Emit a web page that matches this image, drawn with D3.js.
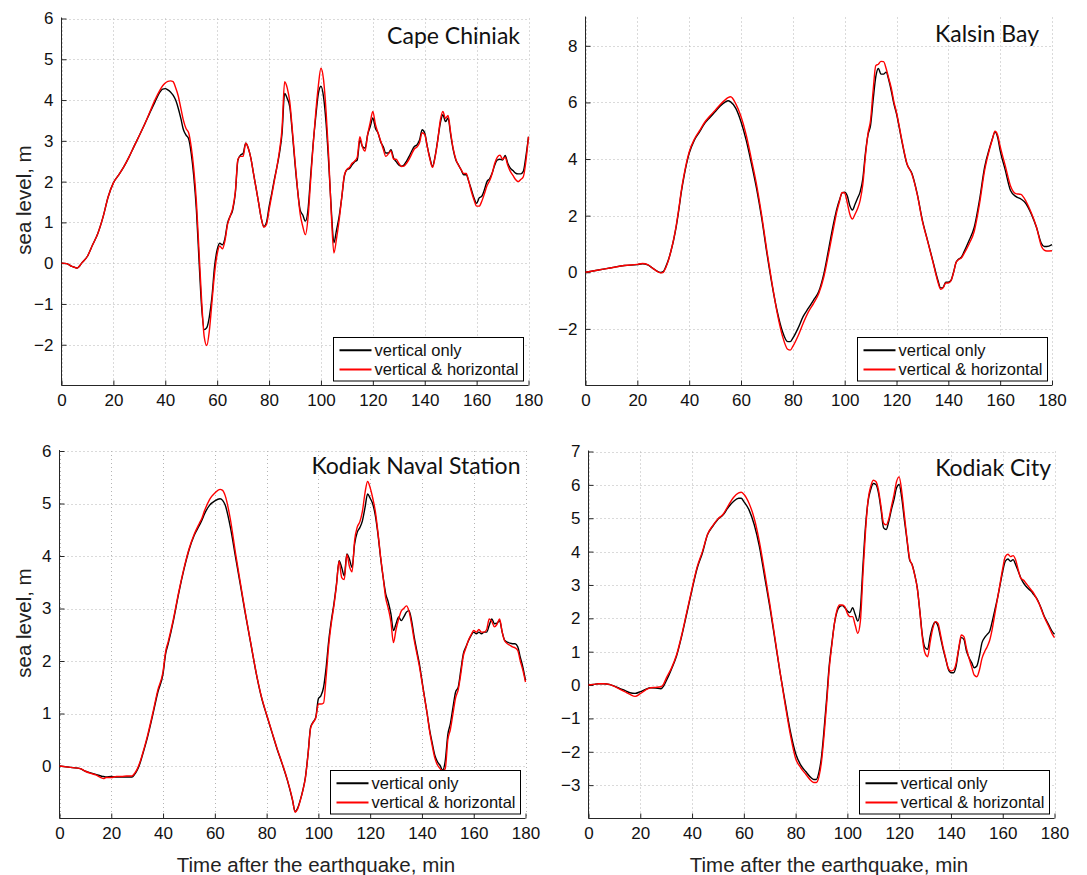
<!DOCTYPE html>
<html><head><meta charset="utf-8">
<script src="https://cdn.jsdelivr.net/npm/d3@7"></script>
<style>body{margin:0;background:#fff}svg{display:block}</style>
</head><body>
<svg id="chart" width="1087" height="875"></svg>
<script>
// ---------------- DATA ----------------
const xTicks = [0,20,40,60,80,100,120,140,160,180];
const seriesNames = ["vertical only","vertical & horizontal"];

// Cape Chiniak
const capeYTicks = [-2,-1,0,1,2,3,4,5,6];
const capeTime = [0,2,4,5,6,8,10,12,14,16,18,20,22,24,26,28,30,32,34,36,38,39,
 40,41,42,43,44,45,46,47,48,49,50,51,52,53,54,55,56,57,58,59,60,61,62,63,64,65,66,67,68,69,
 70,71,72,73,74,75,76,77,78,79,80,81,82,83,84,85,86,87,88,89,90,91,92,93,94,95,96,97,98,99,
 100,101,102,103,104,105,106,107,108,109,110,111,112,113,114,115,116,117,118,119,
 120,121,122,123,124,125,126,127,128,129,130,131,132,133,134,135,136,137,138,139,
 140,141,142,143,144,145,146,147,148,149,150,151,152,153,154,155,156,157,158,159,
 160,161,162,163,164,165,166,167,168,169,170,171,172,173,174,175,176,177,178,179,180];
const capeVert = [0,-0.01,-0.08,-0.1,-0.12,0.02,0.17,0.45,0.73,1.13,1.63,1.97,2.16,2.36,2.6,2.87,3.13,3.4,3.68,3.95,4.2,4.27,
 4.28,4.25,4.2,4.12,4.0,3.8,3.55,3.27,3.14,3.05,
 2.69,2.12,1.3,0.08,-1.06,-1.63,-1.58,-1.31,-0.82,-0.08,
 0.33,0.49,0.45,0.61,0.98,1.15,1.31,1.72,2.53,2.65,
 2.69,2.94,2.82,2.57,2.2,1.84,1.47,1.1,0.9,1.0,
 1.38,1.7,2.04,2.35,2.69,3.18,4.16,4.04,3.83,3.18,
 2.44,1.79,1.3,1.18,1.03,1.3,2.12,2.93,3.59,4.16,
 4.34,4.08,3.42,2.44,1.3,0.5,0.81,1.14,1.6,2.12,
 2.29,2.32,2.41,2.49,2.53,3.02,2.86,2.82,3.15,3.35,
 3.56,3.31,3.19,2.98,2.86,2.7,2.7,2.78,2.58,2.49,
 2.41,2.38,2.41,2.5,2.62,2.75,2.86,2.9,3.02,3.27,
 3.19,2.86,2.58,2.37,2.62,3.02,3.43,3.64,3.47,3.56,
 3.15,2.78,2.53,2.41,2.29,2.17,2.17,2.0,1.8,1.6,
 1.47,1.6,1.64,1.8,2.0,2.07,2.21,2.41,2.53,2.55,
 2.53,2.64,2.45,2.33,2.27,2.21,2.19,2.19,2.25,2.62,3.1];
const capeVertHoriz = [0,-0.01,-0.08,-0.1,-0.12,0.02,0.17,0.45,0.73,1.13,1.63,1.97,2.16,2.36,2.6,2.87,3.13,3.4,3.7,4.0,4.25,4.35,
 4.42,4.46,4.47,4.45,4.3,4.1,3.8,3.5,3.3,3.2,
 2.85,2.3,1.5,0.3,-0.9,-1.8,-2.02,-1.65,-0.95,-0.25,
 0.22,0.42,0.35,0.55,0.95,1.15,1.35,1.75,2.55,2.62,
 2.62,2.94,2.82,2.57,2.2,1.84,1.47,1.1,0.88,0.95,
 1.3,1.65,2.0,2.35,2.75,3.3,4.45,4.3,3.95,3.25,
 2.5,1.8,1.2,0.9,0.7,1.1,2.0,2.9,3.7,4.35,
 4.78,4.5,3.7,2.6,1.2,0.25,0.6,1.05,1.6,2.15,
 2.3,2.35,2.45,2.5,2.6,3.1,2.85,2.75,3.15,3.45,
 3.72,3.4,3.2,3.0,2.8,2.62,2.68,2.75,2.55,2.55,
 2.45,2.37,2.38,2.45,2.55,2.68,2.8,2.85,2.95,3.2,
 3.15,2.85,2.55,2.35,2.6,3.0,3.5,3.72,3.55,3.62,
 3.2,2.8,2.55,2.4,2.3,2.2,2.2,2.0,1.75,1.55,
 1.4,1.4,1.52,1.7,1.9,2.02,2.2,2.45,2.6,2.65,
 2.55,2.6,2.4,2.25,2.15,2.05,2.0,2.05,2.12,2.5,3.1];

// Kalsin Bay
const kalsinYTicks = [-2,0,2,4,6,8];
const kalsinTime = [0,5,10,15,20,22,24,26,28,29,30,31,32,33,34,35,36,37,38,40,42,44,46,48,50,52,54,55,56,
 58,60,62,64,66,68,70,72,74,76,78,79,80,82,84,86,88,90,92,94,
 96,97,98,99,100,101,102,103,104,105,106,107,108,109,110,111,112,113,114,115,116,117,118,119,120,
 122,124,126,128,130,132,134,136,137,138,139,140,141,142,143,144,145,146,148,150,152,154,156,157,158,159,160,
 162,164,166,168,170,172,174,176,177,178,180];
const kalsinVert = [0,0.08,0.16,0.24,0.27,0.3,0.26,0.14,0.02,-0.01,0.02,0.2,0.44,0.76,1.14,1.61,2.2,2.85,3.38,
 4.2,4.67,4.96,5.26,5.47,5.67,5.87,6.02,6.06,6.02,
 5.79,5.32,4.67,3.85,2.96,1.9,0.67,-0.45,-1.39,-2.09,-2.45,-2.45,-2.33,-1.98,-1.56,-1.27,-0.98,-0.68,-0.04,0.91,
 1.85,2.25,2.55,2.8,2.83,2.7,2.35,2.2,2.4,2.62,2.85,3.3,4.2,4.85,5.2,6.1,6.9,7.2,7.0,7.0,7.07,6.8,6.4,5.95,5.6,
 4.66,3.83,3.48,2.77,1.83,1.12,0.41,-0.29,-0.55,-0.53,-0.35,-0.35,-0.29,0,0.35,0.47,0.53,0.71,1.12,1.59,2.54,3.71,4.42,4.72,4.95,4.78,4.3,
 3.6,2.89,2.68,2.59,2.42,2.06,1.59,1.0,0.91,0.91,0.98];
const kalsinVertHoriz = [0,0.08,0.16,0.24,0.28,0.31,0.27,0.14,0.01,-0.02,0.0,0.17,0.42,0.76,1.16,1.65,2.25,2.9,3.43,
 4.25,4.7,5.0,5.3,5.52,5.72,5.93,6.1,6.17,6.2,
 5.95,5.5,4.85,4.0,3.1,2.0,0.75,-0.4,-1.45,-2.25,-2.72,-2.75,-2.62,-2.25,-1.8,-1.4,-1.1,-0.75,-0.15,0.75,
 1.7,2.15,2.5,2.82,2.8,2.45,2.05,1.88,2.05,2.25,2.55,3.1,4.1,4.9,5.38,6.44,7.3,7.35,7.45,7.44,7.2,6.85,6.5,6.02,5.65,
 4.7,3.85,3.45,2.75,1.8,1.1,0.38,-0.35,-0.6,-0.55,-0.38,-0.38,-0.3,-0.02,0.35,0.45,0.5,0.65,1.0,1.45,2.4,3.6,4.38,4.7,4.98,4.85,4.45,
 3.75,3.05,2.78,2.75,2.5,2.1,1.6,0.9,0.78,0.75,0.76];

// Kodiak Naval Station
const navalYTicks = [0,1,2,3,4,5,6];
const navalTime = [0,5,8,10,12,14,16,17,18,20,22,24,26,28,29,30,31,32,34,36,38,40,41,42,44,46,48,50,52,54,55,56,58,60,62,63,64,
 66,68,70,72,74,76,78,80,82,84,86,88,90,
 91,92,93,94,95,96,97,98,99,
 100,101,102,103,104,105,106,107,108,109,110,111,112,113,114,115,116,117,118,119,
 120,121,122,123,124,125,126,127,128,129,130,131,132,133,134,135,136,137,138,139,
 140,141,142,143,144,145,146,147,148,149,150,151,152,153,154,155,156,157,158,159,
 160,161,162,163,164,165,166,167,168,169,170,171,172,173,174,175,176,177,178,179,180];
const navalVert = [0,-0.03,-0.05,-0.1,-0.13,-0.16,-0.19,-0.2,-0.21,-0.2,-0.21,-0.21,-0.21,-0.21,-0.16,-0.08,0.04,0.2,
 0.55,0.97,1.41,1.76,2.14,2.33,2.77,3.28,3.73,4.11,4.39,4.58,4.68,4.8,4.97,5.05,5.09,5.06,4.97,
 4.55,3.98,3.41,2.84,2.3,1.76,1.31,0.97,0.65,0.33,0.04,-0.27,-0.65,
 -0.87,-0.8,-0.65,-0.46,-0.21,0.23,0.74,0.84,0.93,
 1.28,1.34,1.5,1.88,2.39,2.77,3.09,3.47,3.91,3.78,
 3.62,4.04,3.94,3.78,4.23,4.45,4.54,4.67,4.92,5.18,
 5.1,4.99,4.77,4.42,3.98,3.6,3.28,3.12,2.9,2.58,
 2.71,2.84,2.77,2.84,2.93,2.96,2.77,2.46,2.2,1.95,
 1.63,1.31,1.0,0.68,0.43,0.2,0.08,0.01,-0.08,0.1,
 0.6,0.81,1.12,1.41,1.5,1.82,2.14,2.27,2.39,2.49,
 2.55,2.52,2.55,2.52,2.55,2.55,2.68,2.8,2.71,2.72,
 2.77,2.55,2.39,2.36,2.34,2.33,2.33,2.27,2.07,1.88,1.63];
const navalVertHoriz = [0,-0.03,-0.05,-0.1,-0.14,-0.17,-0.22,-0.24,-0.22,-0.22,-0.2,-0.2,-0.19,-0.19,-0.14,-0.06,0.06,0.22,
 0.58,1.0,1.45,1.8,2.18,2.37,2.8,3.3,3.75,4.13,4.41,4.62,4.72,4.86,5.08,5.2,5.27,5.25,5.15,
 4.7,4.05,3.45,2.86,2.31,1.77,1.32,0.98,0.66,0.34,0.05,-0.26,-0.64,
 -0.88,-0.82,-0.66,-0.47,-0.22,0.22,0.72,0.83,0.92,
 1.18,1.18,1.2,1.7,2.3,2.72,3.05,3.45,3.9,3.59,
 3.55,4.03,3.8,3.7,4.3,4.55,4.65,4.85,5.2,5.42,
 5.3,5.1,4.85,4.45,4.0,3.6,3.2,3.0,2.75,2.35,
 2.6,2.8,2.95,3.0,3.05,2.95,2.7,2.4,2.15,1.9,
 1.6,1.3,1.0,0.65,0.38,0.15,0.02,-0.05,-0.1,-0.05,
 0.5,0.7,1.0,1.3,1.45,1.75,2.1,2.25,2.4,2.5,
 2.58,2.55,2.6,2.55,2.55,2.6,2.8,2.75,2.65,2.7,
 2.8,2.55,2.38,2.33,2.3,2.27,2.25,2.2,2.0,1.82,1.6];

// Kodiak City
const cityYTicks = [-3,-2,-1,0,1,2,3,4,5,6,7];
const cityTime = [0,2,4,6,8,10,12,14,16,18,20,22,24,26,28,29,30,32,34,36,38,40,42,44,46,48,50,52,54,56,58,59,60,
 62,64,66,68,70,72,74,76,78,80,82,84,86,
 87,88,89,90,91,92,93,94,95,96,97,98,99,
 100,101,102,103,104,105,106,107,108,109,110,111,112,113,114,115,116,117,118,119,
 120,121,122,123,124,125,126,127,128,129,130,131,132,133,134,135,136,137,138,139,
 140,141,142,143,144,145,146,147,148,149,150,151,152,153,154,155,156,157,158,159,
 160,161,162,163,164,165,166,167,168,169,170,171,172,173,174,175,176,177,178,179,180];
const cityVert = [0,0.02,0.04,0.04,0.02,-0.03,-0.1,-0.16,-0.23,-0.25,-0.2,-0.13,-0.08,-0.09,-0.11,-0.03,0.12,
 0.47,0.87,1.47,2.16,2.86,3.51,3.96,4.51,4.76,4.97,5.1,5.33,5.5,5.6,5.6,5.5,
 5.25,4.81,4.16,3.26,2.36,1.37,0.37,-0.53,-1.4,-2.05,-2.4,-2.6,-2.78,
 -2.83,-2.83,-2.62,-2.15,-1.33,-0.4,0.6,1.25,1.85,2.2,2.35,2.38,2.32,
 2.22,2.17,2.32,2.12,1.92,2.27,3.56,4.76,5.51,5.86,
 6.04,6.01,5.76,5.26,4.71,4.66,4.91,5.26,5.56,5.91,
 6.01,5.61,4.96,4.36,3.76,3.61,3.31,2.91,2.2,1.47,
 1.12,1.07,1.47,1.77,1.89,1.77,1.42,1.07,0.77,0.47,
 0.37,0.37,0.57,1.07,1.42,1.37,1.02,0.82,0.67,0.52,
 0.57,0.87,1.27,1.42,1.52,1.62,1.92,2.27,2.61,3.01,
 3.41,3.71,3.78,3.71,3.76,3.61,3.41,3.21,3.06,2.96,
 2.88,2.81,2.71,2.61,2.46,2.27,2.07,1.92,1.77,1.62,1.52];
const cityVertHoriz = [0,0.02,0.04,0.04,0.02,-0.04,-0.12,-0.2,-0.28,-0.34,-0.26,-0.15,-0.08,-0.07,-0.05,0.03,0.2,
 0.5,0.9,1.5,2.2,2.9,3.55,4.0,4.52,4.78,4.98,5.12,5.38,5.62,5.76,5.78,5.72,
 5.45,5.0,4.3,3.4,2.45,1.42,0.38,-0.6,-1.5,-2.2,-2.48,-2.68,-2.87,
 -2.92,-2.92,-2.75,-2.3,-1.5,-0.55,0.5,1.2,1.85,2.25,2.4,2.4,2.35,
 2.15,2.05,2.05,1.8,1.55,1.9,3.3,4.6,5.55,5.95,
 6.14,6.1,5.85,5.35,4.85,4.8,4.98,5.35,5.7,6.1,
 6.24,5.8,5.1,4.4,3.8,3.6,3.3,2.9,2.2,1.4,
 0.95,0.85,1.3,1.7,1.9,1.85,1.5,1.12,0.8,0.5,
 0.42,0.45,0.65,1.1,1.5,1.45,1.1,0.8,0.55,0.3,
 0.25,0.45,0.8,1.0,1.15,1.35,1.7,2.15,2.6,3.05,
 3.5,3.85,3.92,3.85,3.88,3.75,3.45,3.2,3.15,3.05,
 2.95,2.85,2.75,2.6,2.45,2.25,2.05,1.88,1.72,1.55,1.42];

// ---------------- LAYOUT ----------------
const panels = [
  {title:"Cape Chiniak", time:capeTime, s1:capeVert, s2:capeVertHoriz, yDom:[-3,6], yTicks:capeYTicks,
   x0:61.5, x1:528.5, y0:18.5, y1:385.5, tx:520, ty:44, yl:{x:30.5,y:200}},
  {title:"Kalsin Bay", time:kalsinTime, s1:kalsinVert, s2:kalsinVertHoriz, yDom:[-4,9], yTicks:kalsinYTicks,
   x0:585.5, x1:1052, y0:17.5, y1:385.5, tx:1039, ty:41.7},
  {title:"Kodiak Naval Station", time:navalTime, s1:navalVert, s2:navalVertHoriz, yDom:[-1,6], yTicks:navalYTicks,
   x0:59.5, x1:525.5, y0:451, y1:818.5, tx:520.5, ty:474, yl:{x:30.5,y:623}, xl:{x:316,y:871.5}},
  {title:"Kodiak City", time:cityTime, s1:cityVert, s2:cityVertHoriz, yDom:[-4,7], yTicks:cityYTicks,
   x0:588.5, x1:1054.5, y0:451.5, y1:818.5, tx:1051, ty:476, xl:{x:829,y:871.5}}
];

const svg = d3.select("#chart");
const FONT = "'Liberation Sans', Arial, Helvetica, sans-serif";
const TFONT = "Lato, 'Noto Sans', sans-serif";
const axisCol = "#262626";

panels.forEach(p => {
  const x = d3.scaleLinear().domain([0,180]).range([p.x0, p.x1]);
  const y = d3.scaleLinear().domain(p.yDom).range([p.y1, p.y0]);
  const g = svg.append("g");

  // grid
  const grid = g.append("g").attr("stroke","#b4b4b4").attr("stroke-width",1).attr("stroke-dasharray","1,3").attr("fill","none");
  xTicks.forEach(v => {
    const xx = Math.round(x(v)) + 0.5;
    grid.append("line").attr("x1",xx).attr("x2",xx).attr("y1",p.y0).attr("y2",p.y1);
  });
  p.yTicks.forEach(v => {
    const yy = Math.round(y(v)) + 0.5;
    grid.append("line").attr("x1",p.x0).attr("x2",p.x1).attr("y1",yy).attr("y2",yy);
  });

  // axes (ticks inward)
  const xAxis = d3.axisBottom(x).tickValues(xTicks).tickSize(-5).tickPadding(8).tickFormat(d3.format("d"));
  const yAxis = d3.axisLeft(y).tickValues(p.yTicks).tickSize(-5).tickPadding(8)
      .tickFormat(d => d < 0 ? "\u2212" + Math.abs(d) : String(d));
  const ax = g.append("g").attr("transform", `translate(0,${p.y1})`).call(xAxis);
  const ay = g.append("g").attr("transform", `translate(${p.x0},0)`).call(yAxis);
  [ax, ay].forEach(a => {
    a.select(".domain").attr("stroke", axisCol).attr("d", null);
    a.selectAll(".tick line").attr("stroke", axisCol);
    a.selectAll("text").attr("fill","#111").style("font-family",FONT).style("font-size","17px");
  });
  ax.select(".domain").remove();
  ay.select(".domain").remove();
  g.append("line").attr("x1",p.x0).attr("x2",p.x1).attr("y1",p.y1).attr("y2",p.y1).attr("stroke",axisCol);
  g.append("line").attr("x1",p.x0).attr("x2",p.x0).attr("y1",p.y0 - 1).attr("y2",p.y1).attr("stroke",axisCol);

  // curves
  const pts1 = p.time.map((t,i) => [t, p.s1[i]]);
  const pts2 = p.time.map((t,i) => [t, p.s2[i]]);
  const line = d3.line().x(d => x(d[0])).y(d => y(d[1])).curve(d3.curveMonotoneX);
  g.append("path").attr("d", line(pts1)).attr("fill","none").attr("stroke","#000").attr("stroke-width",1.4).attr("stroke-linejoin","round");
  g.append("path").attr("d", line(pts2)).attr("fill","none").attr("stroke","#ff0000").attr("stroke-width",1.4).attr("stroke-linejoin","round");

  // title
  g.append("text").attr("x", p.tx).attr("y", p.ty).attr("text-anchor","end")
   .style("font-family", TFONT).style("font-size","23px").attr("fill","#111").text(p.title);

  // legend
  const lw = 190, lh = 43.5;
  const lx = Math.round(p.x1 - 5.5 - lw) + 0.5, ly = Math.round(p.y1 - 5 - lh) + 0.5;
  const lg = g.append("g");
  lg.append("rect").attr("x",lx).attr("y",ly).attr("width",lw).attr("height",lh)
    .attr("fill","#fff").attr("stroke","#000").attr("stroke-width",1);
  [["#000",12.7],["#ff0000",32]].forEach((c,i) => {
    lg.append("line").attr("x1",lx+6).attr("x2",lx+38).attr("y1",ly+c[1]).attr("y2",ly+c[1])
      .attr("stroke",c[0]).attr("stroke-width",2);
    lg.append("text").attr("x",lx+41).attr("y",ly+c[1]).attr("dy","0.35em")
      .style("font-family",FONT).style("font-size","16.5px").attr("fill","#111").text(seriesNames[i]);
  });

  // axis labels
  if (p.yl) {
    svg.append("text").attr("transform",`translate(${p.yl.x},${p.yl.y}) rotate(-90)`).attr("text-anchor","middle")
      .style("font-family",FONT).style("font-size","20.5px").attr("fill","#222").text("sea level, m");
  }
  if (p.xl) {
    svg.append("text").attr("x",p.xl.x).attr("y",p.xl.y).attr("text-anchor","middle")
      .style("font-family",FONT).style("font-size","20.5px").attr("fill","#222").text("Time after the earthquake, min");
  }
});
</script>
</body></html>
